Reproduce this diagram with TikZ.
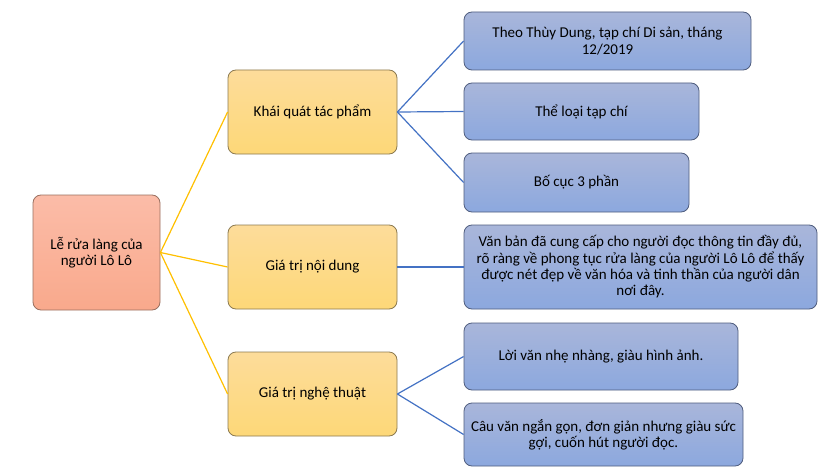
\documentclass[tikz,border=0pt]{standalone}
\usepackage{fontspec}
\setmainfont{Carlito}
\definecolor{rootT}{HTML}{FBBCA8}
\definecolor{rootB}{HTML}{F9A98C}
\definecolor{rootD}{HTML}{9A7060}
\definecolor{midT}{HTML}{FDDC9A}
\definecolor{midB}{HTML}{FDD878}
\definecolor{midD}{HTML}{8C7A50}
\definecolor{leafT}{HTML}{A9B6DA}
\definecolor{leafB}{HTML}{8CA8DE}
\definecolor{leafD}{HTML}{4F5D7E}
\definecolor{ylw}{HTML}{FFC000}
\definecolor{blu}{HTML}{4472C4}
\tikzset{
  box/.style={rounded corners=8pt, inner sep=2pt, align=center, font=\fontsize{15}{16.3}\selectfont, text=black, line width=0.8pt},
  rootbox/.style={box, draw=rootD, top color=rootT, bottom color=rootB},
  midbox/.style={box, draw=midD, top color=midT, bottom color=midB, minimum width=169pt, minimum height=84pt},
  leafbox/.style={box, draw=leafD, top color=leafT, bottom color=leafB},
  ylink/.style={draw=ylw, line width=1.2pt},
  blink/.style={draw=blu, line width=1.2pt}
}
\begin{document}
\begin{tikzpicture}[x=1pt,y=-1pt]
\useasboundingbox (0,0) rectangle (824,476);
\fill[white] (0,0) rectangle (824,476);
\node[rootbox, minimum width=127pt, minimum height=115pt] (root) at (96.5,252.5) {Lễ rửa làng của\\người Lô Lô};
\node[midbox] (m1) at (312.5,112) {Khái quát tác phẩm};
\node[midbox] (m2) at (312.5,267) {Giá trị nội dung};
\node[midbox] (m3) at (312.5,394) {Giá trị nghệ thuật};
\node[leafbox, minimum width=287pt, minimum height=58pt] (l1) at (607.5,41) {Theo Thùy Dung, tạp chí Di sản, tháng\\12/2019};
\node[leafbox, minimum width=235pt, minimum height=57pt] (l2) at (581.5,111.5) {Thể loại tạp chí};
\node[leafbox, minimum width=225pt, minimum height=59pt] (l3) at (576.5,182.5) {Bố cục 3 phần};
\node[leafbox, minimum width=353pt, minimum height=84pt] (l4) at (640.5,267) {Văn bản đã cung cấp cho người đọc thông tin đầy đủ,\\rõ ràng về phong tục rửa làng của người Lô Lô để thấy\\được nét đẹp về văn hóa và tinh thần của người dân\\nơi đây.};
\node[leafbox, minimum width=274pt, minimum height=67pt] (l5) at (601,356.5) {Lời văn nhẹ nhàng, giàu hình ảnh.};
\node[leafbox, minimum width=279pt, minimum height=63pt] (l6) at (603.5,434.5) {Câu văn ngắn gọn, đơn giản nhưng giàu sức\\gợi, cuốn hút người đọc.};
\draw[ylink] (root.east) -- (m1.west);
\draw[ylink] (root.east) -- (m2.west);
\draw[ylink] (root.east) -- (m3.west);
\draw[blink] (m1.east) -- (l1.west);
\draw[blink] (m1.east) -- (l2.west);
\draw[blink] (m1.east) -- (l3.west);
\draw[blink] (m2.east) -- (l4.west);
\draw[blink] (m3.east) -- (l5.west);
\draw[blink] (m3.east) -- (l6.west);
\end{tikzpicture}
\end{document}
